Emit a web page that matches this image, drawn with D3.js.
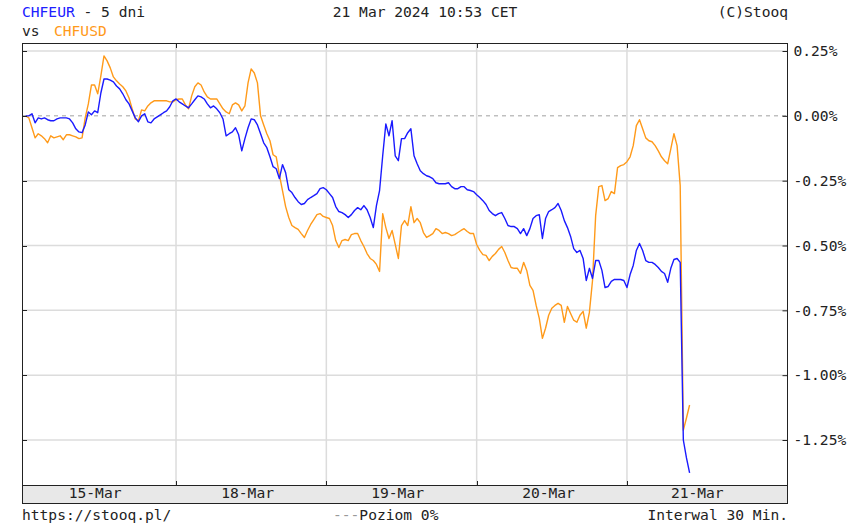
<!DOCTYPE html>
<html>
<head>
<meta charset="utf-8">
<script src="https://cdn.jsdelivr.net/npm/d3@7"></script>
<style>
  html, body { margin: 0; padding: 0; background: #fff; }
  svg { display: block; }
  text { font-family: "DejaVu Sans Mono", monospace; font-size: 14.6px; fill: #222; }
</style>
</head>
<body>
<svg id="chart" width="868" height="523"></svg>
<script>
// ---- Data (percent change vs start, 30-minute bars) ----
const chfeur = [
  0.000, 0.000, 0.008, -0.027, -0.008, -0.012, -0.008, -0.015, -0.019, -0.019,
  -0.012, -0.008, -0.008, -0.008, -0.012, -0.027, -0.050, -0.062, -0.065, -0.035,
  0.015, 0.004, 0.019, 0.012, 0.088, 0.142, 0.142, 0.138, 0.131, 0.115,
  0.104, 0.085, 0.062, 0.046, 0.019, -0.008, -0.023, 0.000, 0.008, -0.023,
  -0.027, -0.012, -0.004, 0.004, 0.012, 0.019, 0.035, 0.058, 0.065, 0.054,
  0.046, 0.038, 0.031, 0.046, 0.062, 0.077, 0.073, 0.065, 0.046, 0.031,
  0.038, 0.027, 0.012, -0.012, -0.077, -0.069, -0.062, -0.046, -0.073, -0.135,
  -0.088, -0.046, -0.012, -0.015, -0.035, -0.069, -0.104, -0.123, -0.158, -0.196,
  -0.204, -0.242, -0.188, -0.219, -0.285, -0.296, -0.315, -0.331, -0.342, -0.338,
  -0.323, -0.315, -0.308, -0.300, -0.281, -0.277, -0.285, -0.300, -0.315, -0.350,
  -0.369, -0.373, -0.381, -0.392, -0.381, -0.365, -0.354, -0.362, -0.346, -0.362,
  -0.392, -0.431, -0.346, -0.288, -0.154, -0.031, -0.077, -0.019, -0.154, -0.173,
  -0.088, -0.088, -0.065, -0.050, -0.154, -0.185, -0.212, -0.223, -0.231, -0.235,
  -0.242, -0.258, -0.262, -0.262, -0.262, -0.258, -0.273, -0.281, -0.281, -0.273,
  -0.273, -0.285, -0.288, -0.292, -0.304, -0.315, -0.327, -0.342, -0.365, -0.377,
  -0.385, -0.377, -0.373, -0.396, -0.423, -0.427, -0.427, -0.435, -0.454, -0.435,
  -0.462, -0.435, -0.396, -0.385, -0.381, -0.473, -0.396, -0.369, -0.362, -0.354,
  -0.338, -0.365, -0.404, -0.431, -0.465, -0.512, -0.527, -0.519, -0.550, -0.635,
  -0.588, -0.627, -0.558, -0.558, -0.596, -0.662, -0.658, -0.638, -0.631, -0.631,
  -0.631, -0.635, -0.662, -0.612, -0.577, -0.519, -0.492, -0.519, -0.558, -0.565,
  -0.565, -0.573, -0.585, -0.600, -0.608, -0.642, -0.588, -0.554, -0.550, -0.565,
  -1.250, -1.319, -1.377
];
const chfusd = [
  0.000, -0.008, -0.046, -0.085, -0.069, -0.077, -0.088, -0.104, -0.077, -0.085,
  -0.081, -0.077, -0.092, -0.073, -0.073, -0.077, -0.081, -0.088, -0.085, -0.008,
  0.046, 0.119, 0.119, 0.085, 0.154, 0.231, 0.212, 0.185, 0.150, 0.135,
  0.123, 0.112, 0.096, 0.069, 0.027, -0.012, -0.019, 0.023, 0.019, 0.038,
  0.050, 0.058, 0.058, 0.058, 0.058, 0.058, 0.054, 0.054, 0.062, 0.065,
  0.065, 0.042, 0.027, 0.077, 0.112, 0.127, 0.119, 0.092, 0.073, 0.065,
  0.065, 0.065, 0.046, 0.027, 0.015, 0.008, 0.042, 0.050, 0.042, 0.019,
  0.038, 0.127, 0.181, 0.165, 0.127, 0.000, -0.035, -0.069, -0.096, -0.150,
  -0.158, -0.227, -0.288, -0.350, -0.392, -0.423, -0.431, -0.438, -0.454, -0.469,
  -0.442, -0.419, -0.400, -0.381, -0.377, -0.388, -0.392, -0.396, -0.423, -0.481,
  -0.508, -0.481, -0.477, -0.481, -0.458, -0.454, -0.454, -0.481, -0.504, -0.531,
  -0.550, -0.558, -0.573, -0.600, -0.377, -0.431, -0.473, -0.442, -0.496, -0.550,
  -0.423, -0.404, -0.423, -0.350, -0.412, -0.396, -0.412, -0.450, -0.469, -0.462,
  -0.454, -0.435, -0.442, -0.454, -0.450, -0.454, -0.462, -0.458, -0.450, -0.442,
  -0.435, -0.446, -0.454, -0.454, -0.496, -0.519, -0.535, -0.538, -0.558, -0.542,
  -0.531, -0.515, -0.504, -0.527, -0.558, -0.585, -0.588, -0.588, -0.608, -0.565,
  -0.596, -0.654, -0.673, -0.731, -0.781, -0.858, -0.819, -0.769, -0.742, -0.731,
  -0.723, -0.731, -0.796, -0.735, -0.762, -0.788, -0.796, -0.769, -0.754, -0.819,
  -0.758, -0.635, -0.385, -0.273, -0.269, -0.327, -0.319, -0.292, -0.300, -0.200,
  -0.192, -0.188, -0.177, -0.158, -0.115, -0.038, -0.015, -0.050, -0.085, -0.096,
  -0.100, -0.115, -0.135, -0.158, -0.173, -0.185, -0.127, -0.069, -0.115, -0.269,
  -1.212, -1.165, -1.115
];
const dayStarts = [48, 96, 144, 192];           // bar index where a new day begins
const dayLabels = ["15-Mar", "18-Mar", "19-Mar", "20-Mar", "21-Mar"];
const dayLabelAt = [22, 70.7, 118.6, 166.8, 214.3];
const yTicks = [0.25, 0, -0.25, -0.5, -0.75, -1.0, -1.25];

// ---- Layout ----
const L = 22, R = 788, T = 43, B = 485, BAND = 504;
const svg = d3.select("#chart");

const x = d3.scaleLinear().domain([0, 212]).range([25.7, 689.6]);
const y = d3.scaleLinear().domain([-1.25, 0.25]).range([440, 51]);

const loc = d3.formatLocale({decimal: ".", thousands: ",", grouping: [3], currency: ["", ""], minus: "-"});
const fmt = d => loc.format(".2f")(d) + "%";

// gridlines
svg.append("g").selectAll("line.h").data(yTicks.filter(d => d !== 0)).join("line")
  .attr("x1", L).attr("x2", R).attr("y1", d => y(d)).attr("y2", d => y(d))
  .attr("stroke", "#dcdcdc").attr("stroke-width", 1.5);
svg.append("g").selectAll("line.v").data(dayStarts).join("line")
  .attr("x1", d => x(d)).attr("x2", d => x(d)).attr("y1", T).attr("y2", B)
  .attr("stroke", "#dcdcdc").attr("stroke-width", 1.5);

// zero level
svg.append("line").attr("x1", L).attr("x2", R).attr("y1", y(0)).attr("y2", y(0))
  .attr("stroke", "#a0a0a0").attr("stroke-width", 1).attr("stroke-dasharray", "4,4");

// series
const line = d3.line().x((d, i) => x(i)).y(d => y(d));
svg.append("path").datum(chfusd).attr("d", line)
  .attr("fill", "none").attr("stroke", "#ff9a1a").attr("stroke-width", 1.4).attr("stroke-linejoin", "round");
svg.append("path").datum(chfeur).attr("d", line)
  .attr("fill", "none").attr("stroke", "#1a1aff").attr("stroke-width", 1.4).attr("stroke-linejoin", "round");

// frame
svg.append("rect").attr("x", L + 0.5).attr("y", T + 0.5).attr("width", R - L - 1).attr("height", BAND - T - 1)
  .attr("fill", "none").attr("stroke", "#222").attr("stroke-width", 1);
// bottom band
svg.append("rect").attr("x", L + 0.5).attr("y", B + 0.5).attr("width", R - L - 1).attr("height", BAND - B - 1)
  .attr("fill", "#e8e8e8").attr("stroke", "#222").attr("stroke-width", 1);

// day ticks top and bottom
svg.append("g").selectAll("line").data(dayStarts).join("line")
  .attr("x1", d => Math.round(x(d)) + 0.5).attr("x2", d => Math.round(x(d)) + 0.5)
  .attr("y1", T).attr("y2", T + 5).attr("stroke", "#222");
svg.append("g").selectAll("line").data(dayStarts).join("line")
  .attr("x1", d => Math.round(x(d)) + 0.5).attr("x2", d => Math.round(x(d)) + 0.5)
  .attr("y1", B - 4).attr("y2", B).attr("stroke", "#222");

// left ticks
svg.append("g").selectAll("line").data(yTicks).join("line")
  .attr("x1", L).attr("x2", L + 5).attr("y1", d => Math.round(y(d)) + 0.5).attr("y2", d => Math.round(y(d)) + 0.5)
  .attr("stroke", "#222");

// right axis
const yAxis = d3.axisRight(y).tickValues(yTicks).tickFormat(fmt).tickSizeInner(-5).tickSizeOuter(0).tickPadding(6);
const gy = svg.append("g").attr("transform", `translate(${R - 0.5},0)`).call(yAxis);
gy.select(".domain").remove();
gy.selectAll(".tick line").attr("stroke", "#222");
gy.selectAll(".tick text").attr("fill", "#222").style("font-family", '"DejaVu Sans Mono", monospace').style("font-size", "14.6px");

// bottom day labels
const xAxis = d3.axisBottom(x).tickValues(dayLabelAt).tickFormat((d, i) => dayLabels[i]).tickSize(0).tickPadding(0);
const gx = svg.append("g").attr("transform", `translate(0,${B + 3})`).call(xAxis);
gx.select(".domain").remove();
gx.selectAll(".tick text").attr("fill", "#222").attr("dy", "0.71em")
  .style("font-family", '"DejaVu Sans Mono", monospace').style("font-size", "14.6px");

// titles
const t1 = svg.append("text").attr("x", 22).attr("y", 17);
t1.append("tspan").attr("fill", "#2020ff").style("fill", "#2020ff").text("CHFEUR");
t1.append("tspan").text(" - 5 dni");
const t2 = svg.append("text").attr("x", 22).attr("y", 36);
t2.append("tspan").text("vs");
t2.append("tspan").attr("x", 54).style("fill", "#ff9a1a").text("CHFUSD");
svg.append("text").attr("x", 425).attr("y", 17).attr("text-anchor", "middle").text("21 Mar 2024 10:53 CET");
svg.append("text").attr("x", 788).attr("y", 17).attr("text-anchor", "end").text("(C)Stooq");

// footer
svg.append("text").attr("x", 22).attr("y", 520).text("https://stooq.pl/");
const f2 = svg.append("text").attr("x", 333).attr("y", 520);
f2.append("tspan").style("fill", "#999").text("---");
f2.append("tspan").text("Poziom 0%");
svg.append("text").attr("x", 788).attr("y", 520).attr("text-anchor", "end").text("Interwal 30 Min.");
</script>
</body>
</html>
